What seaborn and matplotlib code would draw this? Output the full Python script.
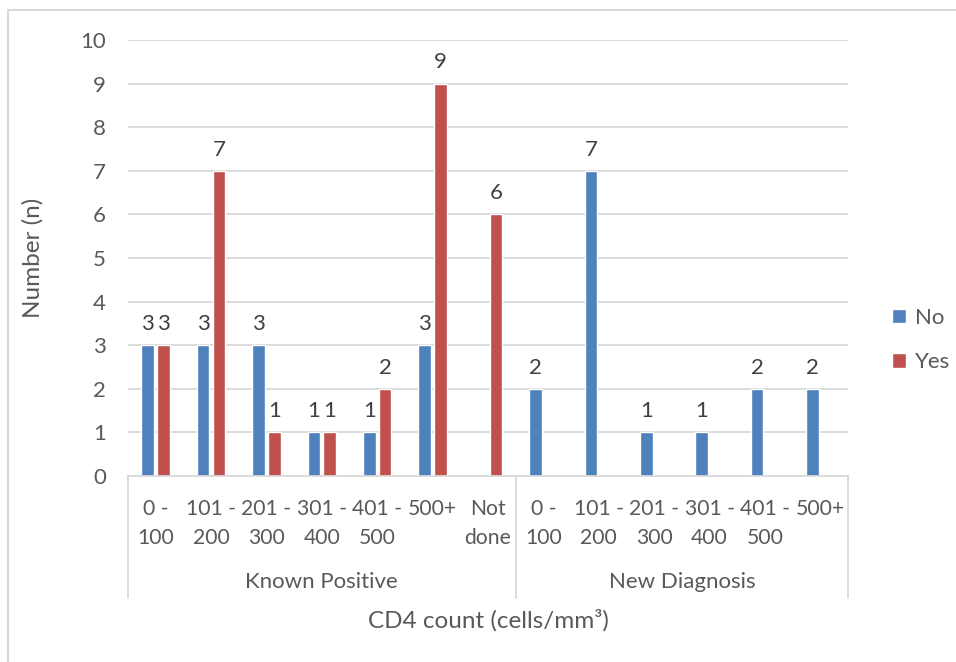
import matplotlib
matplotlib.use("Agg")
import matplotlib.pyplot as plt
import matplotlib.transforms as mtransforms
from matplotlib.patches import Rectangle
import numpy as np
import pandas as pd
import seaborn as sns

# ---- data -------------------------------------------------------------
groups = ["Known Positive", "New Diagnosis"]
kp_ranges = ["0 -\n100", "101 -\n200", "201 -\n300", "301 -\n400", "401 -\n500", "500+", "Not\ndone"]
nd_ranges = ["0 -\n100", "101 -\n200", "201 -\n300", "301 -\n400", "401 -\n500", "500+"]

kp_no = [3, 3, 3, 1, 1, 3, None]
kp_yes = [3, 7, 1, 1, 2, 9, 6]
nd_no = [2, 7, 1, 1, 2, 2]
nd_yes = [None, None, None, None, None, None]

series_names = ["No", "Yes"]
colors = ["#4F81BD", "#C0504D"]

# ---- long-form table --------------------------------------------------
rows = []
keys = []
tick_labels = []
for grp, ranges, no_vals, yes_vals in [
    (groups[0], kp_ranges, kp_no, kp_yes),
    (groups[1], nd_ranges, nd_no, nd_yes),
]:
    for r, n, y in zip(ranges, no_vals, yes_vals):
        key = f"{grp}|{r}"
        keys.append(key)
        tick_labels.append(r)
        if n is not None:
            rows.append({"cat": key, "series": "No", "value": n})
        if y is not None:
            rows.append({"cat": key, "series": "Yes", "value": y})
df = pd.DataFrame(rows)

# ---- figure -----------------------------------------------------------
W, H = 956, 662
fig = plt.figure(figsize=(W / 100, H / 100), dpi=100)
sns.set_style("white")
plt.rcParams["font.family"] = ["Lato", "DejaVu Sans"]
text_color = "#595959"
grid_color = "#D9D9D9"
fs = 16
fs_tick = 15.2

def fx(px):
    return px / W

def fy(py):
    return 1 - py / H

ax_left, ax_right, ax_top, ax_bottom = 128, 848, 40, 476
ax = fig.add_axes([fx(ax_left), fy(ax_bottom), fx(ax_right - ax_left), (ax_bottom - ax_top) / H])

sns.barplot(
    data=df, x="cat", y="value", hue="series",
    order=keys, hue_order=series_names, palette=colors,
    width=0.57, gap=0.2, dodge=True, saturation=1,
    ax=ax, legend=True, errorbar=None,
)

for cont in ax.containers:
    ax.bar_label(cont, fmt="%g", padding=8, fontsize=fs, color="#404040")

ax.set_xlim(-0.5, len(keys) - 0.5)
ax.set_ylim(0, 10)
ax.set_yticks(np.arange(0, 11, 1))
ax.yaxis.grid(True, color=grid_color, lw=1.3)
ax.set_axisbelow(True)
for s in ["top", "right", "left"]:
    ax.spines[s].set_visible(False)
ax.spines["bottom"].set_color(grid_color)
ax.spines["bottom"].set_linewidth(1.3)
ax.tick_params(axis="y", length=0, pad=16, labelsize=fs, labelcolor=text_color)
ax.set_xticks(range(len(keys)))
ax.set_xticklabels(tick_labels, fontsize=fs_tick, color=text_color, linespacing=1.55)
ax.tick_params(axis="x", length=0, pad=16.5)
ax.set_xlabel("")
ax.set_ylabel("")

# multi-level category axis: group separators and group names
blend = mtransforms.blended_transform_factory(ax.transData, fig.transFigure)
for xb in [-0.5, len(kp_ranges) - 0.5, len(keys) - 0.5]:
    ax.plot([xb, xb], [fy(ax_bottom), fy(598)], transform=blend,
            color=grid_color, lw=1.3, clip_on=False)
ax.text((len(kp_ranges) - 1) / 2, fy(582), groups[0], transform=blend,
        ha="center", va="center", fontsize=fs, color=text_color)
ax.text(len(kp_ranges) + (len(nd_ranges) - 1) / 2, fy(582), groups[1], transform=blend,
        ha="center", va="center", fontsize=fs, color=text_color)

# axis titles
fig.text(fx((ax_left + ax_right) / 2), fy(620), "CD4 count (cells/mm³)",
         ha="center", va="center", fontsize=fs + 1.5, color=text_color)
fig.text(fx(33), fy((ax_top + ax_bottom) / 2), "Number (n)", rotation=90,
         ha="center", va="center", fontsize=fs + 1.5, color=text_color)

# legend
ax.legend(
    loc="center left", bbox_to_anchor=(fx(872), fy(340)), bbox_transform=fig.transFigure,
    frameon=False, fontsize=fs, labelcolor=text_color,
    handlelength=0.62, handleheight=0.62, handletextpad=0.4, labelspacing=1.1,
)

# chart frame
fig.patches.append(Rectangle((fx(8), fy(H + 20)), fx(W + 20), fy(10) - fy(H + 20),
                             transform=fig.transFigure, fill=False,
                             edgecolor=grid_color, lw=1.5))

fig.savefig("out.png", dpi=100, facecolor="white")
